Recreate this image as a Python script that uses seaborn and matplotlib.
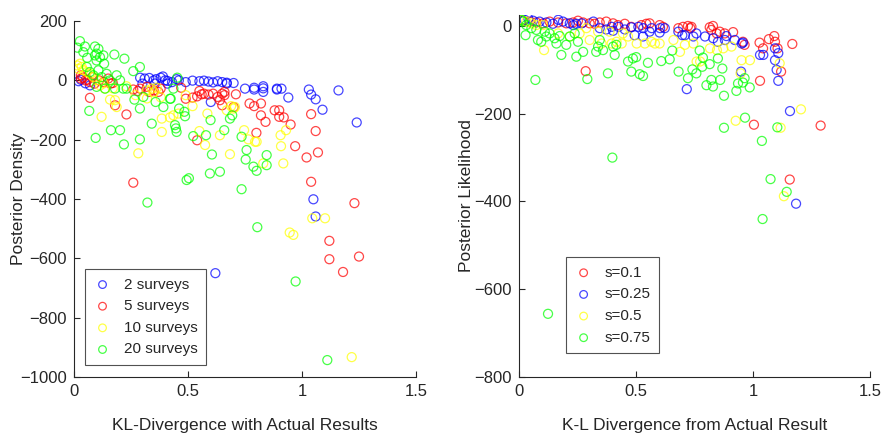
import seaborn as sns
import pandas as pd
import matplotlib.pyplot as plt
from matplotlib import font_manager

# Left panel: KL-divergence vs posterior density, one group per survey count
kl_2 = [0.02, 0.03, 0.05, 0.07, 0.29, 0.31, 0.33, 0.35, 0.36, 0.38, 0.39, 0.40, 0.41, 0.43, 0.45, 0.46, 0.49,
        0.52, 0.55, 0.57, 0.59, 0.60, 0.61, 0.63, 0.65, 0.67, 0.67, 0.70,
        0.75, 0.79, 0.79, 0.83, 0.83, 0.83, 0.89, 0.89, 0.91, 0.94,
        1.03, 1.04, 1.06, 1.09, 1.16, 1.24, 1.05, 1.06, 0.62, 0.30, 0.355, 0.41]
pd_2 = [-3, 2, -10, -17, 9, 6, 8, 0, 4, 9, 13, 0, -2, -6, 4, 0, -6,
        -1, -3, -1, -4, -73, -7, -3, -6, -8, -11, -9,
        -28, -25, -31, -20, -27, -39, -31, -28, -28, -58,
        -31, -48, -64, -99, -34, -142, -401, -459, -650, -11, -11, -11]

kl_5 = [0.03, 0.03, 0.04, 0.05, 0.06, 0.07, 0.08, 0.09, 0.07,
        0.11, 0.13, 0.15, 0.16, 0.17, 0.18, 0.23,
        0.26, 0.28, 0.29, 0.32, 0.33, 0.35, 0.37, 0.38,
        0.47, 0.49, 0.52, 0.54, 0.55, 0.56, 0.57, 0.59, 0.61, 0.63, 0.64, 0.65, 0.66, 0.66, 0.65,
        0.70, 0.71, 0.77, 0.79, 0.80, 0.82, 0.82, 0.84, 0.88, 0.90, 0.90, 0.92, 0.95, 0.97,
        1.02, 1.04, 1.06, 1.07, 1.04, 1.23,
        0.26, 0.54, 1.12, 1.12, 1.18, 1.25]
pd_5 = [17, 6, 9, 0, 2, -6, 11, -11, -59,
        0, -6, 6, -11, -9, -84, -115,
        -31, -36, -28, -22, -39, -34, -39, -28,
        -25, -62, -58, -54, -36, -47, -45, -48, -45, -56, -67, -45, -39, -50, -84,
        -90, -47, -78, -87, -177, -78, -118, -140, -101, -101, -123, -125, -149, -222,
        -260, -114, -171, -243, -342, -414,
        -345, -202, -541, -603, -646, -594]

kl_10 = [0.015, 0.026, 0.034, 0.019, 0.041, 0.056, 0.070, 0.085, 0.10, 0.114, 0.136, 0.158, 0.18, 0.187, 0.121,
         0.282, 0.319, 0.341, 0.363, 0.385, 0.385, 0.421, 0.436, 0.458,
         0.520, 0.550, 0.575, 0.585, 0.640, 0.670, 0.684, 0.689, 0.699, 0.706,
         0.746, 0.765, 0.794, 0.801, 0.830, 0.906, 0.908, 0.918, 0.930,
         1.045, 1.101, 0.946, 0.962, 1.218,
         0.17, 0.27, 0.32, 0.35, 0.38, 0.49, 0.23, 0.13]
pd_10 = [50, 56, 45, 39, 34, 28, 22, 11, 0, -17, -28, -65, -67, -90, -123,
         -246, -34, -28, -25, -129, -174, -125, -118, -112,
         -87, -171, -218, -112, -185, -101, -249, -87, -95, -90,
         -168, -199, -207, -207, -280, -185, -222, -280, -168,
         -465, -465, -513, -521, -933,
         -27, -50, -61, -40, -57, -50, -20, -10]

kl_20 = [0.015, 0.026, 0.041, 0.048, 0.058, 0.092, 0.099, 0.107, 0.092, 0.099, 0.114, 0.129, 0.132, 0.177, 0.221,
         0.289, 0.26, 0.056, 0.07, 0.085, 0.107, 0.121, 0.143, 0.158, 0.187, 0.202, 0.231, 0.099, 0.136, 0.18,
         0.216, 0.453, 0.436,
         0.067, 0.095, 0.162, 0.202, 0.219, 0.289, 0.341, 0.392, 0.424, 0.443, 0.447, 0.450, 0.461, 0.484,
         0.487, 0.494, 0.504, 0.523, 0.579, 0.596, 0.605, 0.640, 0.599, 0.659, 0.684, 0.694, 0.735, 0.735,
         0.753, 0.757, 0.787, 0.801, 0.845, 0.845, 0.322, 0.265, 0.289, 0.304, 0.358, 0.421,
         0.804, 0.972, 1.111]
pd_20 = [110, 132, 95, 114, 76, 114, 90, 106, 84, 67, 78, 84, 56, 87, 73,
         45, 31, 45, 28, 17, 34, 11, 22, 0, 17, 0, -28, -22, -28, -28,
         -28, 9, -28,
         -103, -194, -168, -168, -216, -199, -146, -90, -62, -151, -162, -174, -95, -106,
         -121, -336, -330, -188, -185, -314, -250, -308, -134, -168, -129, -118, -190, -367,
         -267, -235, -291, -305, -252, -286, -412, -65, -95, -56, -73, -62,
         -495, -678, -943]

# Right panel: K-L divergence vs posterior likelihood, one group per s
kl_s1 = [0.017, 0.046, 0.074, 0.103, 0.131, 0.167, 0.202, 0.231, 0.252, 0.274, 0.302, 0.323, 0.345, 0.373,
         0.402, 0.423, 0.452, 0.480, 0.523, 0.544, 0.558, 0.601, 0.615, 0.701, 0.722, 0.732, 0.737, 0.815,
         0.822, 0.829, 0.858, 0.879, 0.915, 0.957, 0.964, 1.028, 1.043, 1.068, 1.091, 1.094, 1.105, 1.120,
         1.168, 0.285, 1.030, 1.004, 1.289, 1.157, 0.681, 0.845]
ll_s1 = [12, 10, 8, 6, 10, 8, 6, 8, 12, 8, 6, 5, 8, 10,
         6, 2, 5, -2, 2, 5, 6, 2, -2, -2, 0, -5, -2, -3,
         -9, 0, -13, -17, -14, -36, -43, -38, -51, -30, -23, -36, -51, -104,
         -41, -103, -125, -225, -227, -350, -5, -17]

kl_s25 = [0.024, 0.040, 0.060, 0.088, 0.117, 0.145, 0.168, 0.188, 0.217, 0.232, 0.245, 0.268, 0.318, 0.345,
          0.373, 0.396, 0.402, 0.425, 0.452, 0.480, 0.494, 0.510, 0.530, 0.531, 0.558, 0.567, 0.601, 0.603,
          0.623, 0.681, 0.698, 0.709, 0.745, 0.758, 0.795, 0.830, 0.850, 0.880, 0.886, 0.922, 0.952, 0.957,
          1.030, 1.044, 1.094, 1.108, 1.094, 1.101, 1.108, 0.717, 0.949, 1.158, 1.184]
ll_s25 = [14, 17, 12, 10, 8, 5, 14, 10, 6, 2, 5, 6, 10, -5,
          -8, -2, -11, -2, -8, -3, -21, -2, -24, -5, -13, -5, -15, -5,
          -5, -13, -21, -21, -24, -17, -24, -28, -36, -32, -23, -32, -40, -38,
          -66, -66, -51, -62, -78, -100, -125, -144, -104, -194, -405]

kl_s5 = [0.010, 0.031, 0.053, 0.074, 0.103, 0.107, 0.167, 0.217, 0.259, 0.302, 0.353, 0.396, 0.417, 0.439,
         0.466, 0.503, 0.538, 0.566, 0.581, 0.601, 0.660, 0.688, 0.709, 0.745, 0.759, 0.774, 0.816, 0.846,
         0.873, 0.908, 0.951, 0.987, 1.114, 0.947, 1.205, 0.926, 1.118, 1.132, 0.288, 0.338, 0.387, 0.444]
ll_s5 = [14, 10, 6, 2, 2, -55, -17, -24, -17, -32, -40, -40, -36, -40,
         -24, -40, -40, -36, -40, -40, -32, -59, -43, -40, -81, -81, -51, -55,
         -51, -47, -78, -78, -85, -108, -190, -216, -232, -388, -5, -13, -13, -17]

kl_s75 = [0.010, 0.017, 0.031, 0.028, 0.053, 0.074, 0.081, 0.095, 0.110, 0.117, 0.131, 0.152, 0.160, 0.174,
          0.181, 0.202, 0.217, 0.238, 0.245, 0.252, 0.274, 0.330, 0.338, 0.345, 0.359, 0.380, 0.402, 0.409,
          0.416, 0.466, 0.480, 0.487, 0.501, 0.516, 0.530, 0.551, 0.608, 0.644, 0.655, 0.682, 0.722, 0.741,
          0.758, 0.772, 0.783, 0.786, 0.801, 0.815, 0.822, 0.829, 0.850, 0.869, 0.860, 0.876, 0.929, 0.936,
          0.957, 0.964, 0.986, 0.070, 0.292, 0.399, 0.876, 0.966, 1.038, 1.104, 1.075, 1.144, 1.041, 0.124]
ll_s75 = [14, 10, 2, -21, -5, -9, -32, -36, -13, -24, -17, -28, -40, -23,
          -66, -43, -24, -17, -70, -36, -59, -59, -47, -32, -55, -108, -47, -66,
          -43, -81, -104, -74, -71, -110, -114, -84, -80, -76, -56, -104, -119, -99,
          -108, -56, -93, -72, -135, -87, -123, -138, -74, -97, -123, -159, -148, -131,
          -129, -119, -140, -123, -121, -300, -232, -209, -262, -231, -349, -378, -440, -656]

left_groups = [('2 surveys', kl_2, pd_2, '#0000FF'),
               ('5 surveys', kl_5, pd_5, '#FF0000'),
               ('10 surveys', kl_10, pd_10, '#FFFF00'),
               ('20 surveys', kl_20, pd_20, '#00FF00')]
right_groups = [('s=0.1', kl_s1, ll_s1, '#FF0000'),
                ('s=0.25', kl_s25, ll_s25, '#0000FF'),
                ('s=0.5', kl_s5, ll_s5, '#FFFF00'),
                ('s=0.75', kl_s75, ll_s75, '#00FF00')]

sns.set_style('white')
# narrow Helvetica look if available
installed = {f.name for f in font_manager.fontManager.ttflist}
narrow = 'Liberation Sans Narrow' in installed
plt.rcParams['font.family'] = ['Liberation Sans Narrow' if narrow else 'Liberation Sans', 'DejaVu Sans']
tick_fs = 13 if narrow else 12
label_fs = 14 if narrow else 12.5
legend_fs = 12.5 if narrow else 11
dark = '#262626'

fig = plt.figure(figsize=(8.86, 4.41), dpi=100)
ax1 = fig.add_axes([74 / 886, 64 / 441, 342 / 886, 356 / 441])
ax2 = fig.add_axes([519 / 886, 64 / 441, 351 / 886, 362 / 441])


def draw(ax, groups):
    for name, xs, ys, col in groups:
        df = pd.DataFrame({'x': xs, 'y': ys})
        sns.scatterplot(data=df, x='x', y='y', ax=ax, marker='o', s=42,
                        facecolor='none', edgecolor=col, linewidth=0.9,
                        alpha=0.72, label=name)


draw(ax1, left_groups)
draw(ax2, right_groups)

for ax in (ax1, ax2):
    ax.set_xlim(0, 1.5)
    ax.set_xticks([0, 0.5, 1, 1.5])
    ax.set_xticklabels(['0', '0.5', '1', '1.5'])
    ax.spines['top'].set_visible(False)
    ax.spines['right'].set_visible(False)
    for s in ('left', 'bottom'):
        ax.spines[s].set_color(dark)
        ax.spines[s].set_linewidth(0.8)
    ax.tick_params(direction='in', length=4, width=0.8, colors=dark, labelsize=tick_fs,
                   left=True, bottom=True, pad=5)

ax1.set_ylim(-1000, 200)
ax1.set_yticks([-1000, -800, -600, -400, -200, 0, 200])
ax2.set_ylim(-800, 25)
ax2.set_yticks([-800, -600, -400, -200, 0])

ax1.set_xlabel('KL-Divergence with Actual Results', fontsize=label_fs, color=dark)
ax1.set_ylabel('Posterior Density', fontsize=label_fs, color=dark)
ax2.set_xlabel('K-L Divergence from Actual Result', fontsize=label_fs, color=dark)
ax2.set_ylabel('Posterior Likelihood', fontsize=label_fs, color=dark)
ax1.xaxis.set_label_coords(0.5, -0.115)
ax1.yaxis.set_label_coords(-0.14, 0.5)
ax2.xaxis.set_label_coords(0.5, -0.113)
ax2.yaxis.set_label_coords(-0.127, 0.5)

leg1 = ax1.legend(loc='lower left', bbox_to_anchor=(0.032, 0.034), borderaxespad=0, fontsize=legend_fs,
                  frameon=True, fancybox=False, handletextpad=0.8, borderpad=0.55, labelspacing=0.5,
                  markerscale=0.85, handlelength=1.2)
leg2 = ax2.legend(loc='lower left', bbox_to_anchor=(0.134, 0.066), borderaxespad=0, fontsize=legend_fs,
                  frameon=True, fancybox=False, handletextpad=0.8, borderpad=0.55, labelspacing=0.5,
                  markerscale=0.85, handlelength=1.2)
for leg in (leg1, leg2):
    leg.get_frame().set_edgecolor(dark)
    leg.get_frame().set_linewidth(0.8)
    for t in leg.get_texts():
        t.set_color(dark)

fig.savefig('out.png', dpi=100)
